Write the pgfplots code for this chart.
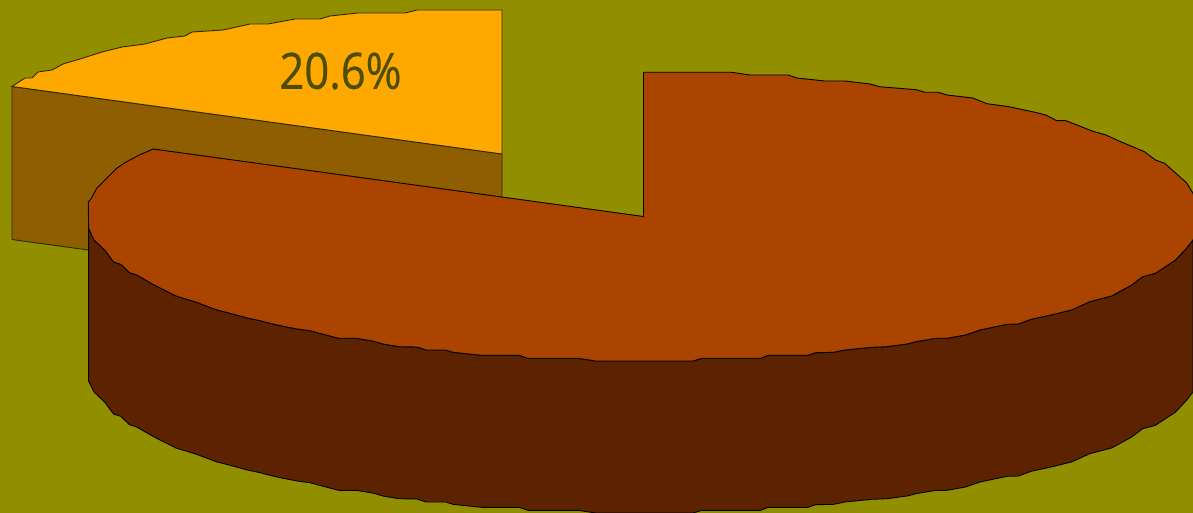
\documentclass[border=0pt]{standalone}
\usepackage{fontspec}
\setmainfont{Open Sans}
\newfontfamily\lblfont[FakeBold=0.7]{Open Sans}
\usepackage{pgfplots}
\pgfplotsset{compat=1.18}

\definecolor{bgolive}{RGB}{145,142,0}
\definecolor{ytop}{RGB}{255,168,0}
\definecolor{yside}{RGB}{143,94,0}
\definecolor{rtop}{RGB}{170,68,0}
\definecolor{rside}{RGB}{93,35,0}
\definecolor{lbl}{RGB}{77,77,0}

\begin{document}
\begin{tikzpicture}
\begin{axis}[
    scale only axis,
    width=1193pt,
    height=513pt,
    xmin=0, xmax=1193,
    ymin=0, ymax=513,
    y dir=reverse,
    hide axis,
    clip=true,
]

% background
\addplot[fill=bgolive, draw=none] coordinates {(0,0) (1193,0) (1193,513) (0,513)} --cycle;

% small slice, side wall
\addplot[fill=yside, draw=black!70!bgolive, line width=0.9pt] coordinates {
    (12,86.5) (502,154) (502,307) (12,239.5)
} --cycle;

% small slice, top
\addplot[fill=ytop, draw=black!70!bgolive, line width=0.9pt] coordinates {
    (12,86.5) (25,78) (32,78) (38,72) (52,70) (63,64) (80,59) (102,52)
    (122,47) (145,44) (167,38) (185,36) (192,32) (223,30) (250,24) (268,24)
    (295,19) (320,19) (330,16) (358,13) (405,13) (417,10)
    (502,10) (502,154)
} --cycle;

% big slice, side wall
\addplot[fill=rside, draw=black, line width=0.9pt] coordinates {
    (1193,240) (1186.5,248.3) (1175.6,260) (1155.4,273.3) (1142.7,276.7)
    (1131.7,285) (1111.6,296) (1089.7,301.7) (1071.4,310) (1051,315)
    (1031,319.3) (1018.4,324) (1007,324.3) (980,330) (965.4,335) (947,338.3)
    (936,338.3) (916,341.7) (907,344) (886.8,346.7) (872,347.3) (844.8,350)
    (833.8,352.3) (815.5,352.7) (808,355.3) (768,355.3) (760.7,358.3)
    (702,358.3) (693,361) (620,361) (595.7,361) (577.9,358.3) (527.9,358.3)
    (519,355.3) (481.4,355.3) (452.9,352.3) (445.7,350) (426,350) (417,347)
    (399,346.7) (383,344) (374,341.3) (356.4,338.3) (338.6,338.3) (326,335)
    (310,330.7) (299,329.3) (286.8,327) (274,324.3) (260,320.7) (247.5,318)
    (227.9,312.7) (217,310) (195.7,302) (176,296) (152.9,284.3) (136.8,275)
    (129.6,272.7) (120.7,264.3) (113.6,262) (104.6,250) (94,240) (88.6,228.3)
    (88.6,381) (94,392) (104.6,402) (113.6,414) (120.7,416.3) (129.6,424.7)
    (136.8,427) (152.9,436.3) (176,448) (195.7,454) (217,462) (227.9,464.7)
    (247.5,470) (260,472.7) (274,476.3) (286.8,479) (299,481.3) (310,482.7)
    (326,487) (338.6,490.3) (356.4,490.3) (374,493.3) (383,496) (399,498.7)
    (417,499) (426,502) (445.7,502) (452.9,504.3) (481.4,507.3) (519,507.3)
    (527.9,510.3) (577.9,510.3) (595.7,513) (620,513) (693,513) (702,510.3)
    (760.7,510.3) (768,507.3) (808,507.3) (815.5,504.7) (833.8,504.3)
    (844.8,502) (872,499.3) (886.8,498.7) (907,496) (916,493.7) (936,490.3)
    (947,490.3) (965.4,487) (980,482) (1007,476.3) (1018.4,476) (1031,471.3)
    (1051,467) (1071.4,462) (1089.7,453.7) (1111.6,448) (1131.7,437)
    (1142.7,428.7) (1155.4,425.3) (1175.6,412) (1186.5,400.3) (1193,392)
} --cycle;

% big slice, top
\addplot[fill=rtop, draw=black, line width=0.9pt] coordinates {
    (643.5,216.5) (643.5,72.3) (731.5,72.3) (749.8,75) (788,75) (797,78)
    (824.7,81) (844.8,81) (870,84) (879.5,86.7) (916,89.7) (925,92.3)
    (938,92.3) (947,95) (972.7,98) (987,103.7) (1009,106.7) (1035,112.3)
    (1045.8,115) (1056.8,120.7) (1066,120.7) (1093,131.3) (1106,135)
    (1119,141) (1144.5,151.7) (1155.4,160) (1164.6,163.3) (1186.5,182.7)
    (1193,193.3) (1200,216) (1193,240) (1186.5,248.3) (1175.6,260)
    (1155.4,273.3) (1142.7,276.7) (1131.7,285) (1111.6,296) (1089.7,301.7)
    (1071.4,310) (1051,315) (1031,319.3) (1018.4,324) (1007,324.3) (980,330)
    (965.4,335) (947,338.3) (936,338.3) (916,341.7) (907,344) (886.8,346.7)
    (872,347.3) (844.8,350) (833.8,352.3) (815.5,352.7) (808,355.3)
    (768,355.3) (760.7,358.3) (702,358.3) (693,361) (620,361) (595.7,361)
    (577.9,358.3) (527.9,358.3) (519,355.3) (481.4,355.3) (452.9,352.3)
    (445.7,350) (426,350) (417,347) (399,346.7) (383,344) (374,341.3)
    (356.4,338.3) (338.6,338.3) (326,335) (310,330.7) (299,329.3) (286.8,327)
    (274,324.3) (260,320.7) (247.5,318) (227.9,312.7) (217,310) (195.7,302)
    (176,296) (152.9,284.3) (136.8,275) (129.6,272.7) (120.7,264.3)
    (113.6,262) (104.6,250) (94,240) (88.6,228.3) (88.3,201.7) (91,199)
    (96.7,188.3) (116.7,168.3) (125,162.7) (139.3,155) (153.3,149)
} --cycle;

\node[text=lbl, xscale=0.87, inner sep=0pt] at (axis cs:340.5,71)
    {\lblfont\fontsize{50}{50}\selectfont 20.6\%};

\end{axis}
\end{tikzpicture}
\end{document}
